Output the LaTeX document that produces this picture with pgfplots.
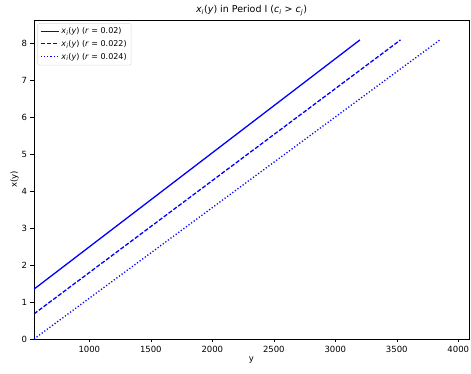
\documentclass[border=0pt]{standalone}
\usepackage{pgfplots}
\pgfplotsset{compat=1.18}
\usepackage{fontspec}
\setmainfont{DejaVu Sans}
\newcommand{\xiy}{\textit{x}\textsubscript{\textit{i}}(\textit{y})}
\begin{document}
\begin{tikzpicture}[font=\fontsize{8.5}{10}\selectfont]
\begin{axis}[
  name=ax,
  scale only axis,
  width=435pt, height=319pt,
  xmin=550, xmax=4087,
  ymin=0, ymax=8.64,
  xtick={1000,1500,2000,2500,3000,3500,4000},
  ytick={0,1,2,3,4,5,6,7,8},
  scaled x ticks=false,
  /pgf/number format/assume math mode=true,
  xticklabel style={/pgf/number format/1000 sep={}},
  tick align=outside,
  tick pos=left,
  major tick length=3.5pt,
  tick style={black, line width=0.6pt},
  axis line style={black, line width=0.9pt},
  xlabel={y}, ylabel={x(y)},
  xlabel style={yshift=2pt},
  ylabel style={yshift=-4pt},
  title={\fontsize{9.5}{11}\selectfont\xiy{} in Period I (\textit{c}\textsubscript{\textit{i}} > \textit{c}\textsubscript{\textit{j}})},
  title style={yshift=-5pt},
  legend style={font=\fontsize{8}{10}\selectfont, row sep=1pt, inner sep=2.5pt, at={(0.008,0.99)}, anchor=north west, draw=black!15, rounded corners=2pt},
  legend cell align=left,
  legend image code/.code={\draw[#1] (0pt,0.5pt) -- (18pt,0.5pt);},
]
\addplot[blue, line width=1.3pt] coordinates {(550,1.35) (3200,8.1)};
\addlegendentry{\xiy{} (\textit{r} = 0.02)}
\addplot[blue, line width=1.3pt, dash pattern=on 4.2pt off 1.8pt] coordinates {(550,0.68) (3530,8.1)};
\addlegendentry{\xiy{} (\textit{r} = 0.022)}
\addplot[blue, line width=1.3pt, dash pattern=on 1.2pt off 2pt] coordinates {(550,0.0) (3850,8.1)};
\addlegendentry{\xiy{} (\textit{r} = 0.024)}
\end{axis}
\pgfresetboundingbox
\path (ax.south west) ++(-34pt,-35pt) rectangle ++(471pt,374pt);
\end{tikzpicture}
\end{document}
